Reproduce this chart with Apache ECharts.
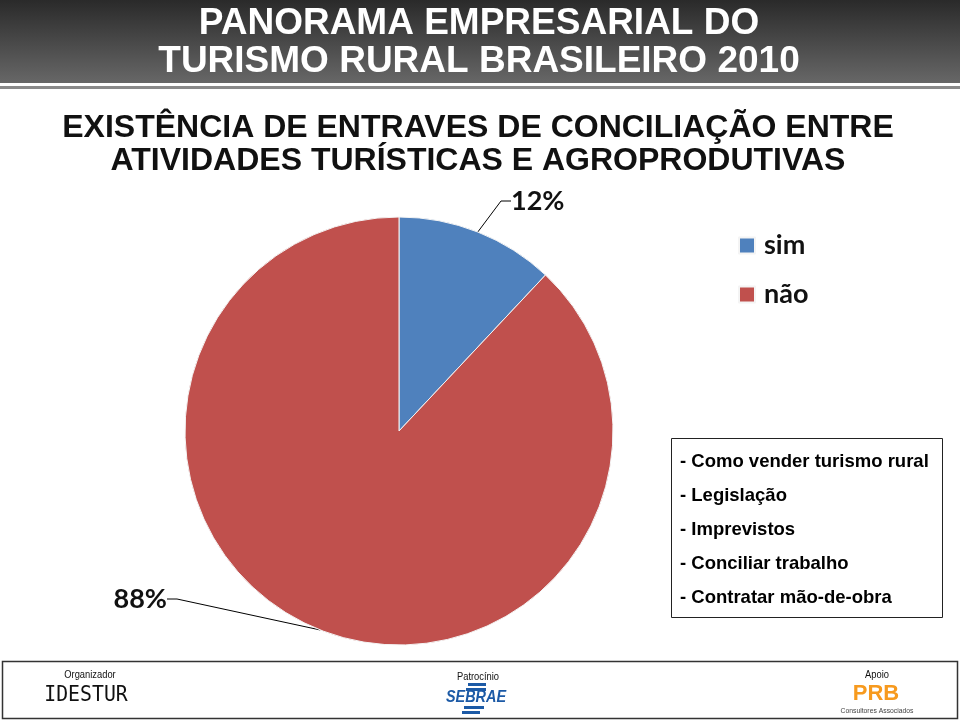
<!DOCTYPE html>
<html><head><meta charset="utf-8">
<script src="https://cdn.jsdelivr.net/npm/echarts@6/dist/echarts.min.js"></script>
<style>html,body{margin:0;padding:0;background:#fff}#c{width:960px;height:720px}</style>
</head><body><div id="c"></div>
<script>
const categories = ['sim', 'não'];
const values = [12, 88];
const labelsText = ['12%', '88%'];
const titleLines = ['PANORAMA EMPRESARIAL DO', 'TURISMO RURAL BRASILEIRO 2010'];
const subtitleLines = ['EXISTÊNCIA DE ENTRAVES DE CONCILIAÇÃO ENTRE', 'ATIVIDADES TURÍSTICAS E AGROPRODUTIVAS'];
const obstacles = ['- Como vender turismo rural', '- Legislação', '- Imprevistos', '- Conciliar trabalho', '- Contratar mão-de-obra'];
const colors = ['#4F81BD', '#C0504D'];

const chart = echarts.init(document.getElementById('c'), null, {renderer: 'canvas'});

const labelPos = [{x: 511, y: 201, align: 'left'}, {x: 167, y: 599, align: 'right'}];

const graphic = [
  {type: 'rect', shape: {x: 0, y: 0, width: 960, height: 83}, style: {fill: new echarts.graphic.LinearGradient(0, 0, 0, 1, [{offset: 0, color: '#2a2a2a'}, {offset: 1, color: '#676767'}])}, z: 0},
  {type: 'rect', shape: {x: 0, y: 86, width: 960, height: 3}, style: {fill: '#8a8a8a'}},
];
const titleY = [24, 62];
titleLines.forEach((t, i) => {
  graphic.push({type: 'text', x: 479, y: titleY[i], style: {text: t, fill: '#fff', font: 'bold 37px "Liberation Sans", Arial, sans-serif', align: 'center', verticalAlign: 'middle', shadowColor: 'rgba(0,0,0,0.85)', shadowOffsetX: 2, shadowOffsetY: 2, shadowBlur: 2}, z: 5});
});
const subY = [128, 161];
subtitleLines.forEach((t, i) => {
  graphic.push({type: 'text', x: 478, y: subY[i], style: {text: t, fill: '#111', font: 'bold 32px "Liberation Sans", Arial, sans-serif', align: 'center', verticalAlign: 'middle', shadowColor: 'rgba(0,0,0,0.45)', shadowOffsetX: 2, shadowOffsetY: 2, shadowBlur: 3}, z: 5});
});
// obstacles box
graphic.push({type: 'rect', shape: {x: 671.5, y: 438.5, width: 271, height: 179}, style: {fill: '#fff', stroke: '#222', lineWidth: 1}});
obstacles.forEach((t, i) => {
  graphic.push({type: 'text', x: 680, y: 462 + i * 34, style: {text: t, fill: '#000', font: 'bold 18.5px "Liberation Sans", Arial, sans-serif', verticalAlign: 'middle'}});
});
// footer
graphic.push({type: 'rect', shape: {x: 2.5, y: 661.5, width: 955, height: 57}, style: {fill: '#fff', stroke: '#333', lineWidth: 1.5}});
graphic.push({type: 'text', x: 90, y: 675, scaleX: 0.85, style: {text: 'Organizador', fill: '#111', font: '11px "Liberation Sans", Arial, sans-serif', align: 'center', verticalAlign: 'middle'}});
graphic.push({type: 'text', x: 86, y: 695, scaleX: 0.9, style: {text: 'IDESTUR', fill: '#111', font: '22px "DejaVu Sans Mono", monospace', align: 'center', verticalAlign: 'middle'}});
graphic.push({type: 'text', x: 478, y: 677, scaleX: 0.85, style: {text: 'Patrocínio', fill: '#111', font: '11px "Liberation Sans", Arial, sans-serif', align: 'center', verticalAlign: 'middle'}});
graphic.push({type: 'rect', shape: {x: 468, y: 683, width: 18, height: 3}, style: {fill: '#1c5aa6'}});
graphic.push({type: 'rect', shape: {x: 466, y: 688, width: 20, height: 3}, style: {fill: '#1c5aa6'}});
graphic.push({type: 'rect', shape: {x: 464, y: 706, width: 20, height: 3}, style: {fill: '#1c5aa6'}});
graphic.push({type: 'rect', shape: {x: 462, y: 711, width: 18, height: 3}, style: {fill: '#1c5aa6'}});
graphic.push({type: 'text', x: 476, y: 698, scaleX: 0.9, style: {text: 'SEBRAE', fill: '#1c5aa6', font: 'italic bold 16px "Liberation Sans", Arial, sans-serif', align: 'center', verticalAlign: 'middle'}});
graphic.push({type: 'text', x: 877, y: 675, scaleX: 0.85, style: {text: 'Apoio', fill: '#111', font: '11px "Liberation Sans", Arial, sans-serif', align: 'center', verticalAlign: 'middle'}});
graphic.push({type: 'text', x: 876, y: 694, style: {text: 'PRB', fill: '#F79A1E', font: 'bold 22px "Liberation Sans", Arial, sans-serif', align: 'center', verticalAlign: 'middle'}});
graphic.push({type: 'text', x: 877, y: 711, scaleX: 0.85, style: {text: 'Consultores Associados', fill: '#444', font: '8px "Liberation Sans", Arial, sans-serif', align: 'center', verticalAlign: 'middle'}});

chart.setOption({
  animation: false,
  color: colors,
  legend: {
    orient: 'vertical', left: 738, top: 232, itemGap: 22, itemWidth: 16, itemHeight: 16, icon: 'rect', padding: 0,
    data: categories,
    textStyle: {fontFamily: 'Lato, "Open Sans", sans-serif', fontWeight: 'bold', fontSize: 27, lineHeight: 26, color: '#111', padding: [0, 0, 0, 4]}
  },
  graphic: graphic,
  series: [{
    type: 'pie', center: [399, 431], radius: 214, startAngle: 90, clockwise: true,
    data: categories.map((c, i) => ({name: c, value: values[i]})),
    itemStyle: {borderColor: '#f4f4f4', borderWidth: 1},
    label: {
      show: true, position: 'outside',
      formatter: p => labelsText[p.dataIndex],
      fontFamily: 'Lato, "Open Sans", sans-serif', fontWeight: 'bold', fontSize: 27, color: '#111'
    },
    labelLine: {show: true, length: 10, length2: 10, lineStyle: {color: '#000', width: 1}},
    labelLayout: p => ({x: labelPos[p.dataIndex].x, y: labelPos[p.dataIndex].y, align: labelPos[p.dataIndex].align, verticalAlign: 'middle'}),
    emphasis: {disabled: true}
  }]
});
</script></body></html>
